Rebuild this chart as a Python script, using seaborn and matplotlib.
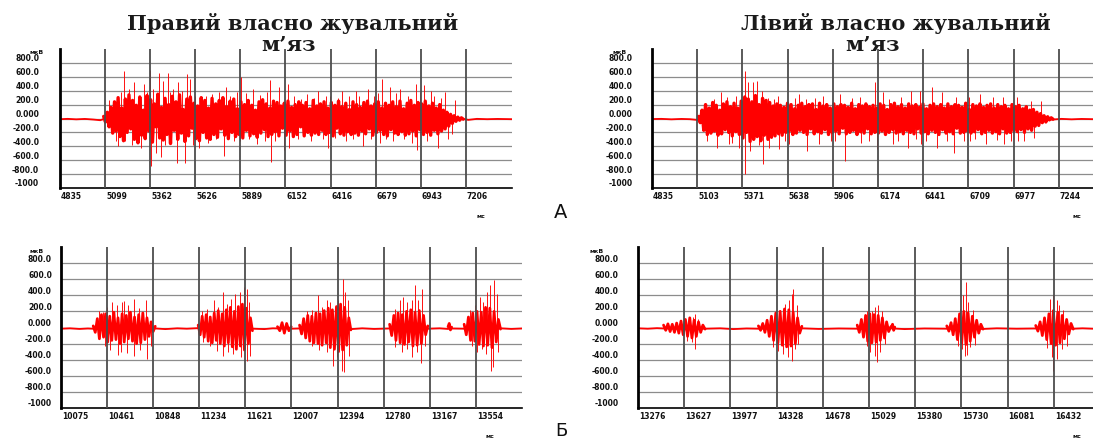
import numpy as np
import matplotlib
matplotlib.use("Agg")
import matplotlib.pyplot as plt
import matplotlib.transforms as mtransforms
import seaborn as sns

RED = "#ff0000"

# ---- axis ticks -----------------------------------------------------------
y_ticks = [-1000, -800, -600, -400, -200, 0, 200, 400, 600, 800]
y_labels = ["-1000", "-800.0", "-600.0", "-400.0", "-200.0", "0.000",
            "200.0", "400.0", "600.0", "800.0"]

a_left_xticks = [4835, 5099, 5362, 5626, 5889, 6152, 6416, 6679, 6943, 7206]
a_right_xticks = [4835, 5103, 5371, 5638, 5906, 6174, 6441, 6709, 6977, 7244]
b_left_xticks = [10075, 10461, 10848, 11234, 11621, 12007, 12394, 12780, 13167, 13554]
b_right_xticks = [13276, 13627, 13977, 14328, 14678, 15029, 15380, 15730, 16081, 16432]

# ---- A: right masseter, one long burst (мкВ, sampled evenly) ---------------
a_left_base_t = [4835, 4880, 4930, 4980, 5030, 5070, 5100, 7180, 7220, 7270, 7330, 7390, 7475]
a_left_base_v = [-10, -5, -12, -6, -15, -25, 0, 0, -20, -5, -10, -6, -10]
a_left_burst = (5090, 7190)
a_left_emg = [
    30, -50, 90, -120, 160, -210, 240, -180, 300, -260, 150, -320, 280, -200, 340, -150, 260, -300, 190, -350,
    310, -240, 120, -290, 330, -180, 270, -340, 210, -120, 350, -280, 160, -310, 290, -230, 200, -360, 320, -170,
    240, -300, 340, -210, 130, -330, 280, -250, 310, -140, 220, -290, 180, -320, 300, -200, 260, -280, 150, -300,
    290, -230, 210, -270, 260, -150, 300, -240, 170, -290, 250, -200, 280, -260, 140, -230, 240, -280, 200, -170,
    260, -250, 190, -220, 120, -270, 240, -210, 270, -160, 210, -260, 150, -230, 250, -190, 230, -250, 180, -140,
    220, -240, 250, -180, 160, -260, 200, -230, 240, -120, 190, -250, 230, -200, 140, -240, 260, -210, 180, -230,
    210, -170, 240, -230, 150, -200, 230, -250, 190, -140, 250, -220, 170, -240, 220, -190, 130, -230, 240, -210,
    200, -240, 160, -180, 230, -220, 250, -150, 180, -240, 210, -200, 240, -170, 150, -230, 220, -250, 190, -160,
    240, -210, 170, -230, 250, -190, 140, -240, 220, -220, 260, -180, 190, -250, 230, -160, 210, -230, 250, -200,
    180, -240, 220, -170, 150, -220, 200, -180, 120, -150, 90, -110, 60, -70, 40, -40, 20, -25, 10, -10]
a_left_spike_t = [
    5120, 5146, 5160, 5176, 5190, 5210, 5216, 5240, 5255, 5266,
    5285, 5306, 5326, 5345, 5360, 5366, 5380, 5396, 5416, 5426,
    5436, 5450, 5466, 5480, 5496, 5516, 5526, 5546, 5565, 5575,
    5595, 5610, 5625, 5645, 5665, 5685, 5700, 5725, 5745, 5765,
    5795, 5805, 5830, 5850, 5870, 5885, 5895, 5920, 5940, 5965,
    5984, 6005, 6030, 6045, 6064, 6070, 6090, 6114, 6144, 6164,
    6174, 6200, 6225, 6244, 6260, 6280, 6300, 6320, 6343, 6370,
    6390, 6403, 6413, 6440, 6460, 6483, 6503, 6525, 6545, 6563,
    6580, 6603, 6633, 6650, 6670, 6690, 6703, 6713, 6740, 6763,
    6780, 6800, 6822, 6842, 6870, 6890, 6912, 6922, 6940, 6962,
    6980, 7002, 7020, 7042, 7060, 7082, 7100, 7122, 7140]
a_left_spike_v = [
    260, 250, -330, -400, 380, 690, -330, 420, -380, 520,
    -300, -420, 500, 380, 700, -680, 420, -490, 650, -560,
    540, -380, 650, 380, 430, -640, 520, 400, -640, 640,
    570, -380, 330, -420, 300, 330, -350, 350, -300, 380,
    -540, 450, 330, -330, 380, -330, 600, 360, -300, 430,
    -370, 340, -320, 380, 550, -620, -330, 450, -450, 500,
    -420, 330, -300, 280, -230, 350, -330, 300, 400, -300,
    320, -420, 330, -280, 300, 400, -330, 330, -300, 400,
    320, -400, 430, -300, 330, 360, -350, 570, -300, 450,
    -320, 360, 430, -300, 330, -350, 500, -450, 380, 475,
    -330, 400, 330, -420, 300, 380, -300, -230, 260]

# ---- A: left masseter -----------------------------------------------------
a_right_base_t = [4835, 4890, 4950, 5010, 5060, 5100, 7210, 7260, 7320, 7380, 7447]
a_right_base_v = [-8, -5, -12, -6, -10, -20, -15, -5, -12, -6, -10]
a_right_burst = (5110, 7210)
a_right_emg = [
    30, -60, 120, -170, 200, -230, 150, -210, 230, -180, 190, -240, 120, -220, 210, -160, 240, -200, 170, -250,
    220, -190, 150, -230, 250, -280, 310, -200, 280, -330, 240, -300, 330, -260, 200, -320, 290, -240, 260, -300,
    230, -270, 180, -250, 210, -220, 190, -240, 160, -200, 220, -180, 200, -230, 140, -210, 190, -170, 220, -200,
    170, -230, 200, -150, 210, -220, 130, -190, 220, -210, 180, -160, 200, -230, 150, -200, 210, -180, 170, -220,
    200, -140, 190, -220, 160, -200, 220, -170, 140, -230, 200, -190, 180, -210, 210, -150, 170, -220, 190, -200,
    150, -210, 210, -180, 190, -230, 130, -200, 200, -160, 220, -210, 170, -190, 200, -220, 150, -170, 210, -200,
    180, -220, 200, -150, 160, -210, 210, -190, 140, -220, 190, -170, 210, -200, 170, -230, 200, -160, 150, -210,
    210, -190, 170, -220, 200, -140, 190, -210, 160, -200, 220, -180, 130, -210, 200, -190, 180, -160, 210, -220,
    160, -200, 190, -170, 210, -210, 150, -190, 200, -220, 170, -150, 190, -210, 140, -200, 200, -180, 170, -190,
    190, -160, 140, -200, 170, -150, 120, -170, 130, -110, 90, -100, 70, -60, 40, -50, 25, -20, 10, -10]
a_right_spike_t = [
    5161, 5200, 5222, 5244, 5282, 5290, 5310, 5335, 5350, 5385,
    5388, 5403, 5415, 5433, 5456, 5470, 5486, 5494, 5524, 5530,
    5560, 5584, 5590, 5620, 5645, 5680, 5705, 5747, 5752, 5800,
    5826, 5850, 5897, 5920, 5947, 5977, 6020, 6068, 6075, 6120,
    6158, 6170, 6201, 6240, 6261, 6290, 6310, 6352, 6370, 6400,
    6422, 6430, 6460, 6491, 6521, 6551, 6580, 6624, 6634, 6680,
    6714, 6720, 6750, 6775, 6815, 6853, 6880, 6914, 6920, 6960,
    6997, 7003, 7040, 7077, 7095, 7137]
a_right_spike_v = [
    -325, 280, -420, 378, 305, -370, -350, 330, -420, 690,
    -800, 520, -470, 520, 545, -380, 400, -660, 300, -420,
    280, 330, -445, -330, -370, 290, 350, 280, -470, 300,
    -370, 330, -325, -330, 350, -615, 290, 305, -350, -320,
    520, -445, 380, 280, -370, -330, 305, -420, 400, -300,
    400, -370, -330, 450, -420, 380, -320, -495, 305, -330,
    305, -325, -300, 350, -370, 305, -310, 305, -370, -330,
    305, -325, -320, 255, -275, 255]

# ---- Б: right masseter, chewing bursts ------------------------------------
b_left_base_t = [10075, 10150, 10230, 10300, 10340, 10870, 10950, 11050, 11130, 11220,
                 11690, 11780, 11850, 12010, 12070, 12510, 12600, 12700, 12830, 13155,
                 13250, 13320, 13350, 13455, 13760, 13850, 13940]
b_left_base_v = [-15, -10, -18, -12, -15, -12, -20, -10, -15, -8,
                 -15, -20, -10, -15, -12, -20, -10, -18, -12, -15,
                 -10, -18, -12, -15, -10, -18, -12]
b_left_starts = [10345, 11225, 11890, 12075, 12830, 13320, 13455]
b_left_ends = [10865, 11680, 12005, 12505, 13150, 13350, 13760]
b_left_b1 = [20, -60, 110, -140, 160, -120, 170, -180, 140, -160, 190, -150, 120, -200, 170, -180,
             150, -140, 190, -170, 130, -200, 160, -190, 180, -150, 120, -110, 70, -50, 15]
b_left_b2 = [30, -90, 140, -120, 160, -170, 130, -190, 180, -160, 210, -200, 170, -230, 220, -190,
             250, -240, 200, -270, 260, -230, 290, -280, 240, -200, 120, -40]
b_left_blip1 = [10, -40, 60, -70, 50, -40, 10]
b_left_b3 = [30, -80, 110, -130, 150, -170, 140, -190, 180, -200, 170, -220, 210, -190, 240, -250,
             220, -270, 260, -300, 290, -280, 250, -220, 120, -30]
b_left_b4 = [40, -100, 150, -160, 180, -190, 160, -210, 200, -180, 220, -230, 190, -220, 210, -200,
             150, -90, 20]
b_left_blip2 = [10, 50, -30, 5]
b_left_b5 = [40, -90, 130, -160, 180, -170, 200, -210, 190, -230, 250, -220, 240, -250, 200, -180,
             100, -20]
b_left_bursts = [b_left_b1, b_left_b2, b_left_blip1, b_left_b3, b_left_b4, b_left_blip2, b_left_b5]
b_left_spike_t = [
    10396, 10425, 10444, 10463, 10486, 10500, 10547, 10550, 10578, 10584,
    10606, 10626, 10640, 10687, 10690, 10731, 10737, 10788, 10792, 10827,
    11255, 11268, 11297, 11324, 11358, 11380, 11394, 11431, 11435, 11464,
    11478, 11498, 11520, 11534, 11576, 11580, 11609, 11632, 11636, 11654,
    11660,
    12135, 12177, 12180, 12232, 12236, 12261, 12303, 12307, 12330, 12358,
    12372, 12392, 12400, 12428, 12437, 12447, 12456, 12484, 12488,
    12875, 12878, 12917, 12931, 12945, 12973, 12978, 13015, 13018, 13043,
    13057, 13071, 13090, 13099, 13127,
    13504, 13518, 13546, 13560, 13588, 13602, 13616, 13638, 13644, 13672,
    13678, 13700, 13705, 13728, 13742]
b_left_spike_v = [
    204, 190, -224, 253, -274, 316, 274, -336, -299, 316,
    324, -316, 282, 357, -349, 241, -274, 336, -390, -224,
    200, -180, 230, -224, 336, -287, 253, 440, -349, 295,
    -299, 357, -328, 420, 440, -370, 503, 482, -411, 316,
    -349,
    200, 212, -230, 399, -280, 253, 336, -300, 316, -474,
    253, -370, 336, -536, 606, -557, 440, 336, -349,
    232, -240, 336, -307, 378, -266, 316, 336, -370, 532,
    -307, 336, -440, 482, -224,
    220, -224, 274, -307, 378, -266, 316, -328, 440, 523,
    -536, -494, 586, 420, -307]

# ---- Б: left masseter -----------------------------------------------------
b_right_base_t = [13276, 13350, 13420, 13470, 13785, 13900, 14000, 14100, 14190, 14520,
                  14650, 14800, 14940, 15195, 15300, 15450, 15620, 15895, 16000, 16150,
                  16295, 16580, 16650, 16730]
b_right_base_v = [-10, -15, -8, -12, -15, -10, -20, -12, -15, -10,
                  -18, -12, -15, -10, -20, -12, -15, -18, -10, -15,
                  -12, -15, -10, -15]
b_right_starts = [13470, 14190, 14940, 15200, 15620, 16295]
b_right_ends = [13785, 14520, 15195, 15225, 15895, 16580]
b_right_b1 = [30, -35, 45, -50, 40, -60, 55, -70, 80, -90, 100, -110, 120, -130, 90, -110, 70, -60, 30, -20]
b_right_b2 = [20, -35, 50, -60, 90, -110, 140, -160, 180, -190, 200, -220, 230, -240, 220, -230,
              190, -200, 120, -70, 15]
b_right_b3 = [30, -60, 100, -120, 150, -170, 170, -190, 160, -180, 150, -160, 120, -130, 70, -50, 10]
b_right_blip = [10, 40, -35, 5]
b_right_b4 = [20, -45, 60, -90, 110, -150, 170, -190, 200, -210, 180, -170, 140, -120, 90, -70, 40, -20]
b_right_b5 = [25, -45, 70, -100, 120, -150, 170, -200, 210, -220, 190, -190, 150, -140, 100, -80, 50, -20]
b_right_bursts = [b_right_b1, b_right_b2, b_right_b3, b_right_blip, b_right_b4, b_right_b5]
b_right_spike_t = [
    13646, 13684, 13696, 13709, 13712, 13734,
    14303, 14341, 14354, 14379, 14392, 14417, 14425, 14443, 14446, 14455,
    14468, 14481, 14493,
    15012, 15015, 15037, 15050, 15075, 15078, 15092, 15100, 15113, 15126,
    15151,
    15707, 15720, 15733, 15745, 15758, 15766, 15771, 15783, 15796, 15821,
    15834,
    16378, 16403, 16416, 16424, 16429, 16454, 16457, 16474, 16492, 16504,
    16530]
b_right_spike_v = [
    -162, -183, 129, 170, -266, 108,
    -245, -287, 212, -328, 295, -370, 336, 420, -411, 482,
    -266, 274, -204,
    200, -224, -307, 210, 253, -349, -432, 274, -307, 200,
    -200,
    -230, 232, -266, 399, -349, 565, -340, 316, -245, 220,
    -220,
    -260, 357, -370, 407, -536, 336, -390, 274, -266, 220,
    -224]


sns.set_style("white")
plt.rcParams["font.family"] = ["DejaVu Sans"]

fig = plt.figure(figsize=(10.93, 4.41), dpi=100)
W, H = 1093.0, 441.0


def add_panel(rect, xticks, xmax, base_t, base_v, starts, ends, bursts,
              spike_t, spike_v, ypad, burst_lw):
    ax = fig.add_axes(rect)
    for y in y_ticks[1:]:
        ax.axhline(y, color="#8c8c8c", lw=0.9, zorder=1)
    for x in xticks[1:]:
        ax.axvline(x, color="#4d4d4d", lw=1.3, zorder=4)

    sns.lineplot(x=base_t, y=base_v, ax=ax, color=RED, lw=1.3,
                 estimator=None, sort=False, zorder=3)
    # each burst is sampled evenly between its start and end time
    for t0, t1, vals in zip(starts, ends, bursts):
        t = np.linspace(t0, t1, len(vals))
        sns.lineplot(x=t, y=vals, ax=ax, color=RED, lw=burst_lw,
                     estimator=None, sort=False, zorder=3)
    ax.vlines(spike_t, 0, spike_v, color=RED, lw=0.65, zorder=3)

    ax.set_xlim(xticks[0], xmax)
    ax.set_ylim(-1000, 1000)
    ax.set_xticks(xticks)
    ax.set_xticklabels([str(v) for v in xticks])
    ax.set_yticks(y_ticks)
    ax.set_yticklabels(y_labels)
    ax.set_xlabel("")
    ax.set_ylabel("")
    ax.tick_params(length=0, labelsize=5.5, colors="#111111")
    ax.tick_params(axis="x", pad=3)
    ax.tick_params(axis="y", pad=ypad)
    dx = mtransforms.ScaledTranslation(0.01, 0, fig.dpi_scale_trans)
    dy = mtransforms.ScaledTranslation(0, 0.05, fig.dpi_scale_trans)
    for lab in ax.get_xticklabels():
        lab.set_horizontalalignment("left")
        lab.set_fontweight("bold")
        lab.set_transform(lab.get_transform() + dx)
    for lab in ax.get_yticklabels():
        lab.set_fontweight("bold")
        lab.set_transform(lab.get_transform() + dy)

    ax.spines["top"].set_visible(False)
    ax.spines["right"].set_visible(False)
    ax.spines["left"].set_color("black")
    ax.spines["left"].set_linewidth(2.0)
    ax.spines["left"].set_zorder(5)
    ax.spines["bottom"].set_color("black")
    ax.spines["bottom"].set_linewidth(1.2)
    return ax


add_panel([60 / W, 1 - 188 / H, 452 / W, 139 / H], a_left_xticks, 7475,
          a_left_base_t, a_left_base_v, [a_left_burst[0]], [a_left_burst[1]], [a_left_emg],
          a_left_spike_t, a_left_spike_v, ypad=15, burst_lw=2.4)
add_panel([652 / W, 1 - 188 / H, 441 / W, 139 / H], a_right_xticks, 7447,
          a_right_base_t, a_right_base_v, [a_right_burst[0]], [a_right_burst[1]], [a_right_emg],
          a_right_spike_t, a_right_spike_v, ypad=14, burst_lw=2.4)
add_panel([61 / W, 1 - 408 / H, 461 / W, 161 / H], b_left_xticks, 13940,
          b_left_base_t, b_left_base_v, b_left_starts, b_left_ends, b_left_bursts,
          b_left_spike_t, b_left_spike_v, ypad=6.5, burst_lw=2.0)
add_panel([638 / W, 1 - 408 / H, 455 / W, 161 / H], b_right_xticks, 16730,
          b_right_base_t, b_right_base_v, b_right_starts, b_right_ends, b_right_bursts,
          b_right_spike_t, b_right_spike_v, ypad=14, burst_lw=2.0)

title_kw = dict(family="DejaVu Serif", fontsize=15, fontweight="bold",
                ha="center", va="center", color="#1a1a1a")
fig.text(293 / W, 1 - 24 / H, "Правий власно жувальний", **title_kw)
fig.text(288 / W, 1 - 45 / H, "м’яз", **title_kw)
fig.text(896 / W, 1 - 24 / H, "Лівий власно жувальний", **title_kw)
fig.text(872 / W, 1 - 45 / H, "м’яз", **title_kw)

small_kw = dict(fontsize=4.5, fontweight="bold", ha="center", va="center", color="#111111")
fig.text(37 / W, 1 - 53 / H, "мкВ", **small_kw)
fig.text(620 / W, 1 - 53 / H, "мкВ", **small_kw)
fig.text(37 / W, 1 - 251 / H, "мкВ", **small_kw)
fig.text(597 / W, 1 - 251 / H, "мкВ", **small_kw)
fig.text(481 / W, 1 - 217 / H, "мс", **small_kw)
fig.text(1077 / W, 1 - 217 / H, "мс", **small_kw)
fig.text(490 / W, 1 - 436 / H, "мс", **small_kw)
fig.text(1077 / W, 1 - 436 / H, "мс", **small_kw)

fig.text(561 / W, 1 - 213 / H, "А", fontsize=14, ha="center", va="center", color="#111111")
fig.text(561 / W, 1 - 431 / H, "Б", fontsize=13, ha="center", va="center", color="#111111")

fig.savefig("out.png", dpi=100, facecolor="white")
